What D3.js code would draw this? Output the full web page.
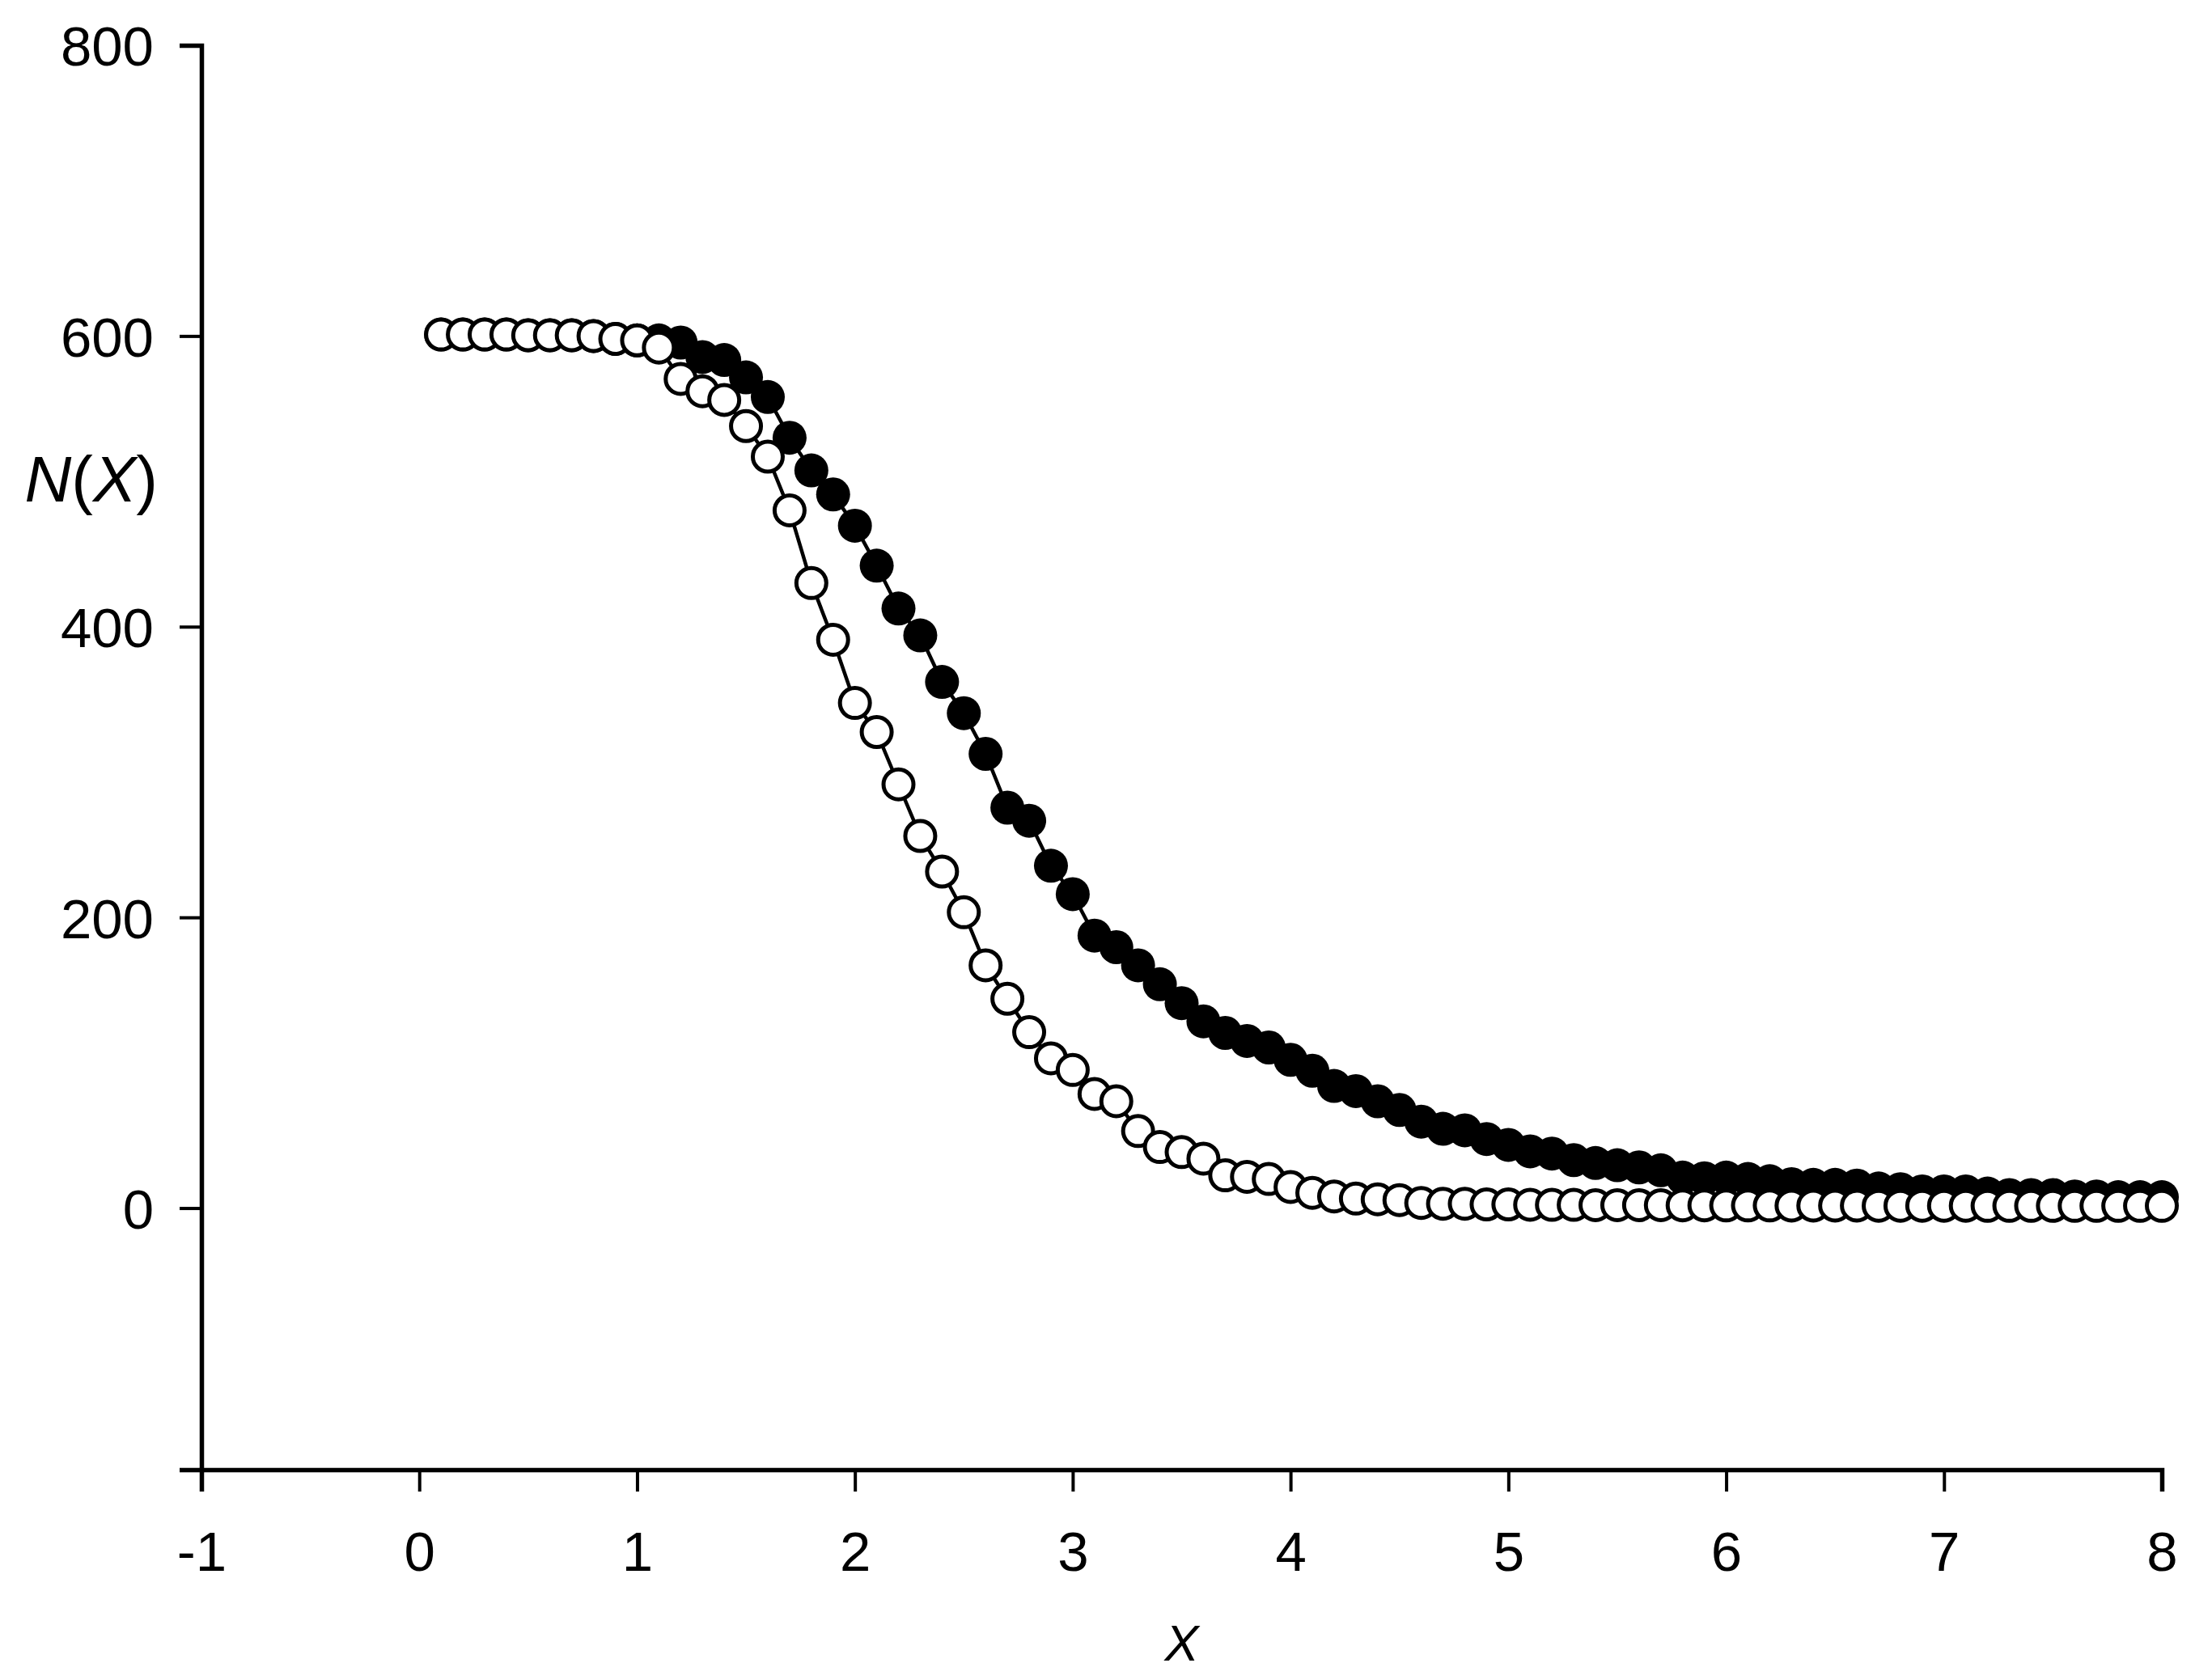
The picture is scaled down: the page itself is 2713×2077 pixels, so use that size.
<!DOCTYPE html>
<html>
<head>
<meta charset="utf-8">
<script src="https://cdn.jsdelivr.net/npm/d3@7"></script>
<style>
  body { margin: 0; background: #fff; }
  #chart { width: 2713px; height: 2077px; }
  text { font-family: 'Liberation Sans', Arial, sans-serif; fill: #000; }
</style>
</head>
<body>
<div id="chart"></div>
<script>
// x positions of the samples
const xValues = [
  0.1, 0.2, 0.3, 0.4, 0.5, 0.6, 0.7, 0.8, 0.9, 1.0,
  1.1, 1.2, 1.3, 1.4, 1.5, 1.6, 1.7, 1.8, 1.9, 2.0,
  2.1, 2.2, 2.3, 2.4, 2.5, 2.6, 2.7, 2.8, 2.9, 3.0,
  3.1, 3.2, 3.3, 3.4, 3.5, 3.6, 3.7, 3.8, 3.9, 4.0,
  4.1, 4.2, 4.3, 4.4, 4.5, 4.6, 4.7, 4.8, 4.9, 5.0,
  5.1, 5.2, 5.3, 5.4, 5.5, 5.6, 5.7, 5.8, 5.9, 6.0,
  6.1, 6.2, 6.3, 6.4, 6.5, 6.6, 6.7, 6.8, 6.9, 7.0,
  7.1, 7.2, 7.3, 7.4, 7.5, 7.6, 7.7, 7.8, 7.9, 8.0
];
// filled circles
const filledValues = [
  601, 601, 601, 601, 600.5, 600.5, 600.5, 600, 598, 597,
  597, 595.5, 585.5, 583.5, 571.5, 558, 530, 507.5, 491, 469.5,
  442, 412.5, 394, 362, 340.5, 312.5, 275.5, 266.5, 235.5, 216,
  187.5, 179.5, 167, 154, 141, 128.5, 120.5, 115, 110.5, 102,
  94.5, 84, 80.5, 73.5, 67.5, 59.5, 54.5, 53.5, 47.5, 43.5,
  39, 37.5, 33, 31, 29.5, 28, 26, 21, 20.5, 21,
  20, 18.5, 16.5, 16, 16, 15.5, 13.5, 13, 11.5, 11.5,
  11.5, 10, 9, 9, 9, 8, 8, 7.5, 7.5, 7.5
];
// open circles
const openValues = [
  601, 601, 601, 601, 600.5, 600.5, 600.5, 600, 598, 597,
  592, 570.5, 562, 556, 538, 517, 480, 430, 391, 347.5,
  327.5, 291.5, 256, 231.5, 203.5, 167, 144, 121, 103, 95,
  78.5, 73.5, 53, 42, 38.5, 34, 22.5, 21.5, 20, 14.5,
  10.5, 8, 6.5, 6, 5.5, 3.5, 3, 3, 2.5, 2.5,
  2.3, 2.2, 2.2, 2, 2, 2, 2, 1.9, 1.9, 1.8,
  1.8, 1.8, 1.7, 1.7, 1.7, 1.7, 1.6, 1.6, 1.6, 1.6,
  1.6, 1.5, 1.5, 1.5, 1.5, 1.5, 1.5, 1.5, 1.5, 1.5
];
// tick labels
const xTicks = [-1, 0, 1, 2, 3, 4, 5, 6, 7, 8];
const yTicks = [0, 200, 400, 600, 800];
const xTitle = 'X';

const LineChart = () => {
  let selector = '';
  let margin = { top: 56, right: 41, bottom: 260, left: 249 };
  let width;
  let height;
  let svg;
  let xScale;
  let yScale;

  function init({ sel }) {
    selector = sel;
    width = parseInt(d3.select(selector).style('width')) - margin.left - margin.right;
    height = parseInt(d3.select(selector).style('height')) - margin.top - margin.bottom;

    svg = d3
      .select(selector)
      .append('svg')
      .attr('width', width + margin.left + margin.right)
      .attr('height', height + margin.top + margin.bottom)
      .append('g')
      .attr('transform', `translate(${margin.left}, ${margin.top})`);

    svg.append('g').attr('class', 'x axis').attr('transform', `translate(0, ${height})`);
    svg.append('g').attr('class', 'y axis');
  }

  function update() {
    xScale = d3.scaleLinear().domain([-1, 8]).range([0, width]);
    yScale = d3.scaleLinear().domain([-180, 800]).range([height, 0]);

    // plain hyphen for negatives, like the original
    const fmt = (d) => String(d);

    const xAxis = d3.axisBottom(xScale)
      .tickValues(xTicks)
      .tickFormat(fmt)
      .tickSizeOuter(0)
      .tickSize(27)
      .tickPadding(49);
    const yAxis = d3.axisLeft(yScale)
      .tickValues(yTicks)
      .tickFormat(fmt)
      .tickSizeOuter(0)
      .tickSize(27)
      .tickPadding(32);

    svg.select('.x.axis').call(xAxis);
    svg.select('.y.axis').call(yAxis);

    // axis styling
    svg.selectAll('.axis .domain').attr('stroke', '#000').attr('stroke-width', 5.5);
    svg.selectAll('.axis .tick line').attr('stroke', '#000').attr('stroke-width', 4);
    svg.selectAll('.axis text')
      .attr('font-family', "'Liberation Sans', Arial, sans-serif")
      .attr('font-size', 69)
      .attr('fill', '#000');
    svg.select('.y.axis').selectAll('text').attr('dy', '0.36em');

    // axis titles
    svg.append('text')
      .attr('x', width / 2)
      .attr('y', height + 236)
      .attr('text-anchor', 'middle')
      .attr('font-size', 63)
      .attr('font-style', 'italic')
      .text(xTitle);

    const yLab = svg.append('text')
      .attr('x', -54)
      .attr('y', 564)
      .attr('text-anchor', 'end')
      .attr('font-size', 80);
    yLab.append('tspan').attr('font-style', 'italic').text('N');
    yLab.append('tspan').text('(');
    yLab.append('tspan').attr('font-style', 'italic').text('X');
    yLab.append('tspan').text(')');

    const series = [
      { key: 'filled', values: filledValues, fill: '#000', r: 21, sw: 0 },
      { key: 'open', values: openValues, fill: '#fff', r: 18.5, sw: 5 }
    ];

    const line = d3.line()
      .x((d) => xScale(d[0]))
      .y((d) => yScale(d[1]));

    series.forEach((s) => {
      const pts = xValues.map((x, i) => [x, s.values[i]]);
      const g = svg.append('g').attr('class', s.key);
      g.append('path')
        .datum(pts)
        .attr('fill', 'none')
        .attr('stroke', '#000')
        .attr('stroke-width', 4.5)
        .attr('d', line);
      g.selectAll('circle')
        .data(pts)
        .join('circle')
        .attr('cx', (d) => xScale(d[0]))
        .attr('cy', (d) => yScale(d[1]))
        .attr('r', s.r)
        .attr('fill', s.fill)
        .attr('stroke', '#000')
        .attr('stroke-width', s.sw);
    });
  }

  return { init, update };
};

const chart = LineChart();
chart.init({ sel: '#chart' });
chart.update();
</script>
</body>
</html>
